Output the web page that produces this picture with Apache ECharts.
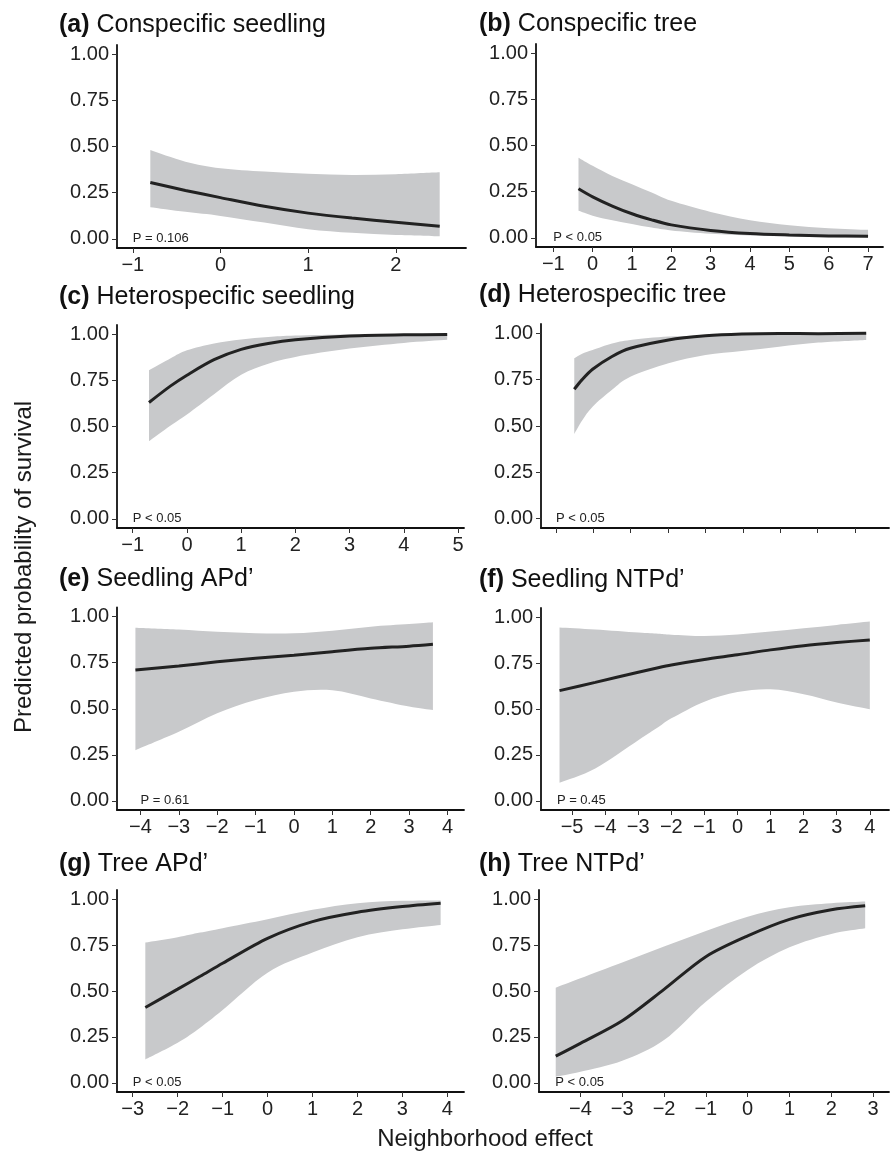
<!DOCTYPE html>
<html>
<head>
<meta charset="utf-8">
<title>Predicted probability of survival</title>
<script src="https://cdn.jsdelivr.net/npm/echarts@6.0.0/dist/echarts.min.js"></script>
<style>
html, body { margin: 0; padding: 0; background: #fff; }
#container { width: 892px; height: 1151px; }
</style>
</head>
<body>
<div id="container"></div>
<script>
// y ticks shared by every panel
var yTicks = [0, 0.25, 0.5, 0.75, 1];

// (a) Conspecific seedling
var aX   = [-0.8, -0.4, 0, 0.5, 1, 1.5, 2, 2.5];
var aFit = [0.305, 0.262, 0.223, 0.176, 0.139, 0.112, 0.09, 0.068];
var aLow = [0.171, 0.146, 0.124, 0.088, 0.052, 0.032, 0.02, 0.013];
var aUp  = [0.481, 0.418, 0.382, 0.364, 0.352, 0.346, 0.35, 0.36];
var aTicks = [-1, 0, 1, 2];

// (b) Conspecific tree
var bX   = [-0.36, 0, 0.5, 1, 1.5, 2, 3, 4, 5, 6, 7];
var bFit = [0.266, 0.222, 0.172, 0.13, 0.097, 0.07, 0.04, 0.023, 0.015, 0.01, 0.008];
var bLow = [0.146, 0.12, 0.095, 0.075, 0.055, 0.04, 0.022, 0.012, 0.007, 0.003, 0.001];
var bUp  = [0.434, 0.39, 0.335, 0.29, 0.245, 0.2, 0.14, 0.095, 0.068, 0.052, 0.043];
var bTicks = [-1, 0, 1, 2, 3, 4, 5, 6, 7];

// (c) Heterospecific seedling
var cX   = [-0.7, -0.3, 0, 0.5, 1, 1.5, 2, 3, 4, 4.8];
var cFit = [0.63, 0.72, 0.778, 0.862, 0.918, 0.95, 0.97, 0.99, 0.997, 0.998];
var cLow = [0.42, 0.505, 0.565, 0.675, 0.78, 0.84, 0.877, 0.922, 0.953, 0.97];
var cUp  = [0.805, 0.87, 0.913, 0.95, 0.972, 0.985, 0.993, 0.999, 1.0, 1.0];
var cTicks = [-1, 0, 1, 2, 3, 4, 5];

// (d) Heterospecific tree (axis ticks drawn without labels)
var dX   = [0.49, 0.7, 0.98, 1.5, 1.99, 3.01, 4.0, 4.97, 5.97, 7.02, 8.3];
var dFit = [0.698, 0.75, 0.806, 0.875, 0.919, 0.964, 0.986, 0.996, 0.999, 0.998, 1.0];
var dLow = [0.457, 0.53, 0.604, 0.695, 0.766, 0.838, 0.883, 0.905, 0.928, 0.95, 0.964];
var dUp  = [0.865, 0.89, 0.91, 0.945, 0.964, 0.982, 0.99, 0.998, 1.0, 1.0, 1.003];
var dTicks = [0, 1, 2, 3, 4, 5, 6, 7, 8];

// (e) Seedling APd'
var eX   = [-4.13, -3, -2, -1, 0, 1, 2, 3, 3.62];
var eFit = [0.71, 0.732, 0.755, 0.774, 0.79, 0.81, 0.828, 0.84, 0.85];
var eLow = [0.275, 0.375, 0.475, 0.547, 0.592, 0.60, 0.556, 0.512, 0.493];
var eUp  = [0.94, 0.93, 0.918, 0.91, 0.91, 0.924, 0.946, 0.96, 0.97];
var eTicks = [-4, -3, -2, -1, 0, 1, 2, 3, 4];

// (f) Seedling NTPd'
var fX   = [-5.38, -4.3, -3, -2.4, -2, -1, 0, 1, 2, 3, 4];
var fFit = [0.6, 0.645, 0.7, 0.725, 0.74, 0.77, 0.795, 0.822, 0.845, 0.862, 0.876];
var fLow = [0.098, 0.176, 0.33, 0.4, 0.449, 0.54, 0.592, 0.607, 0.58, 0.535, 0.498];
var fUp  = [0.944, 0.933, 0.916, 0.91, 0.905, 0.898, 0.906, 0.922, 0.94, 0.958, 0.976];
var fTicks = [-5, -4, -3, -2, -1, 0, 1, 2, 3, 4];

// (g) Tree APd'
var gX   = [-2.72, -2, -1.5, -1, 0, 1, 2, 3, 3.85];
var gFit = [0.41, 0.51, 0.58, 0.651, 0.787, 0.878, 0.929, 0.96, 0.978];
var gLow = [0.127, 0.218, 0.3, 0.396, 0.6, 0.709, 0.793, 0.836, 0.86];
var gUp  = [0.764, 0.793, 0.818, 0.842, 0.891, 0.942, 0.978, 0.991, 0.993];
var gTicks = [-3, -2, -1, 0, 1, 2, 3, 4];

// (h) Tree NTPd'
var hX   = [-4.59, -4, -3, -2, -1, 0, 1, 2, 2.81];
var hFit = [0.145, 0.215, 0.338, 0.509, 0.687, 0.8, 0.89, 0.942, 0.964];
var hLow = [0.033, 0.06, 0.12, 0.233, 0.442, 0.615, 0.738, 0.811, 0.842];
var hUp  = [0.518, 0.569, 0.655, 0.742, 0.827, 0.905, 0.956, 0.978, 0.987];
var hTicks = [-4, -3, -2, -1, 0, 1, 2, 3];

var panels = [
    {tag: '(a)', name: 'Conspecific seedling',    p: 'P = 0.106', pX: -1,    x: aX, fit: aFit, low: aLow, up: aUp, ticks: aTicks, labels: true},
    {tag: '(b)', name: 'Conspecific tree',        p: 'P < 0.05',  pX: -1,    x: bX, fit: bFit, low: bLow, up: bUp, ticks: bTicks, labels: true},
    {tag: '(c)', name: 'Heterospecific seedling', p: 'P < 0.05',  pX: -1,    x: cX, fit: cFit, low: cLow, up: cUp, ticks: cTicks, labels: true},
    {tag: '(d)', name: 'Heterospecific tree',     p: 'P < 0.05',  pX: 0,     x: dX, fit: dFit, low: dLow, up: dUp, ticks: dTicks, labels: false},
    {tag: '(e)', name: 'Seedling APd\u2019',      p: 'P = 0.61',  pX: -4,    x: eX, fit: eFit, low: eLow, up: eUp, ticks: eTicks, labels: true},
    {tag: '(f)', name: 'Seedling NTPd\u2019',     p: 'P = 0.45',  pX: -5.46, x: fX, fit: fFit, low: fLow, up: fUp, ticks: fTicks, labels: true},
    {tag: '(g)', name: 'Tree APd\u2019',          p: 'P < 0.05',  pX: -3,    x: gX, fit: gFit, low: gLow, up: gUp, ticks: gTicks, labels: true},
    {tag: '(h)', name: 'Tree NTPd\u2019',         p: 'P < 0.05',  pX: -4.6,  x: hX, fit: hFit, low: hLow, up: hUp, ticks: hTicks, labels: true}
];

// x axis extent of every panel
var xRange = [
    [-1.18, 2.8], [-1.44, 7.38],
    [-1.29, 5.11], [-0.4, 8.91],
    [-4.61, 4.43], [-5.94, 4.58],
    [-3.35, 4.37], [-4.99, 3.38]
];

var page = {
    font: '"Liberation Sans", Arial, Helvetica, sans-serif',
    // grid boxes: left, top, right edge, height
    boxes: [
        [117, 45, 466, 203], [536, 44, 883, 203],
        [117, 325, 464, 203], [541, 324, 889, 204],
        [117, 607.5, 464, 202.5], [541, 608, 889, 202],
        [117, 890, 464, 202], [539, 890, 889, 202]
    ],
    titleTop: [13, 12, 285, 283, 567, 568, 852, 852],
    init: function () {
        var chart = echarts.init(document.getElementById('container'));
        chart.setOption(this.buildOption());
    },
    zip: function (xs, ys) {
        var out = [];
        for (var i = 0; i < xs.length; i++) out.push([xs[i], ys[i]]);
        return out;
    },
    minus: function (v) {
        return String(v).replace('-', '\u2212');
    },
    //平滑曲线 (Catmull-Rom -> bezier) through pixel points
    curveTo: function (pts) {
        var d = '';
        for (var i = 0; i < pts.length - 1; i++) {
            var p0 = pts[i - 1] || pts[i], p1 = pts[i], p2 = pts[i + 1], p3 = pts[i + 2] || pts[i + 1];
            var c1x = p1[0] + (p2[0] - p0[0]) / 6, c1y = p1[1] + (p2[1] - p0[1]) / 6;
            var c2x = p2[0] - (p3[0] - p1[0]) / 6, c2y = p2[1] - (p3[1] - p1[1]) / 6;
            d += ' C' + c1x + ' ' + c1y + ' ' + c2x + ' ' + c2y + ' ' + p2[0] + ' ' + p2[1];
        }
        return d;
    },
    //置信区间 + P 值
    bandItem: function (pn) {
        var self = this;
        return function (params, api) {
            var top = pn.x.map(function (x, k) { return api.coord([x, pn.up[k]]); });
            var bot = pn.x.map(function (x, k) { return api.coord([x, pn.low[k]]); }).reverse();
            var d = 'M' + top[0][0] + ' ' + top[0][1] + self.curveTo(top) +
                ' L' + bot[0][0] + ' ' + bot[0][1] + self.curveTo(bot) + ' Z';
            var pt = api.coord([pn.pX, 0]);
            return {
                type: 'group',
                children: [
                    { type: 'path', shape: { pathData: d }, style: { fill: '#c8c9cb' } },
                    {
                        type: 'text', x: pt[0], y: pt[1],
                        style: {
                            text: pn.p, fill: '#222', font: '13px ' + self.font,
                            textAlign: 'left', textVerticalAlign: 'middle', align: 'left', verticalAlign: 'middle'
                        }
                    }
                ]
            };
        };
    },
    buildOption: function () {
        var self = this;
        var option = {
            animation: false,
            backgroundColor: '#fff',
            title: [], grid: [], xAxis: [], yAxis: [], series: [],
            graphic: [
                {
                    type: 'text', x: 24, y: 567, rotation: Math.PI / 2,
                    style: {
                        text: 'Predicted probability of survival', fill: '#1a1a1a',
                        font: '24px ' + self.font, textAlign: 'center', textVerticalAlign: 'middle',
                        align: 'center', verticalAlign: 'middle'
                    }
                },
                {
                    type: 'text', x: 485, y: 1139,
                    style: {
                        text: 'Neighborhood effect', fill: '#1a1a1a',
                        font: '24px ' + self.font, textAlign: 'center', textVerticalAlign: 'middle',
                        align: 'center', verticalAlign: 'middle'
                    }
                }
            ]
        };
        panels.forEach(function (pn, i) {
            var b = self.boxes[i];
            option.title.push({
                text: '{b|' + pn.tag + '} ' + pn.name,
                left: i % 2 === 0 ? 59 : 479,
                top: self.titleTop[i],
                padding: 0,
                textStyle: {
                    fontFamily: self.font, fontSize: 25, fontWeight: 'normal', color: '#111',
                    rich: { b: { fontFamily: self.font, fontSize: 25, fontWeight: 'bold', color: '#111' } }
                }
            });
            option.grid.push({ left: b[0], top: b[1], width: b[2] - b[0], height: b[3] });
            option.xAxis.push({
                type: 'value', gridIndex: i, min: xRange[i][0], max: xRange[i][1],
                splitLine: { show: false },
                axisLine: { onZero: false, lineStyle: { color: '#111', width: 1.8 } },
                axisTick: { customValues: pn.ticks, length: 5, lineStyle: { color: '#333', width: 1 } },
                axisLabel: {
                    show: pn.labels, customValues: pn.ticks, margin: 7,
                    color: '#222', fontSize: 20, fontFamily: self.font,
                    formatter: function (v) { return self.minus(v); }
                }
            });
            option.yAxis.push({
                type: 'value', gridIndex: i, min: -0.05, max: 1.05,
                splitLine: { show: false },
                axisLine: { onZero: false, lineStyle: { color: '#111', width: 1.8 } },
                axisTick: { customValues: yTicks, length: 5, lineStyle: { color: '#333', width: 1 } },
                axisLabel: {
                    customValues: yTicks, margin: 8,
                    color: '#222', fontSize: 20, fontFamily: self.font,
                    formatter: function (v) { return v.toFixed(2); }
                }
            });
            option.series.push({
                type: 'custom', xAxisIndex: i, yAxisIndex: i,
                data: [[pn.x[0], pn.low[0]]], silent: true,
                renderItem: self.bandItem(pn)
            });
            option.series.push({
                type: 'line', xAxisIndex: i, yAxisIndex: i,
                data: self.zip(pn.x, pn.fit), symbol: 'none', smooth: 0.3,
                lineStyle: { color: '#222', width: 3 }, silent: true
            });
        });
        return option;
    }
};

page.init();
</script>
</body>
</html>
